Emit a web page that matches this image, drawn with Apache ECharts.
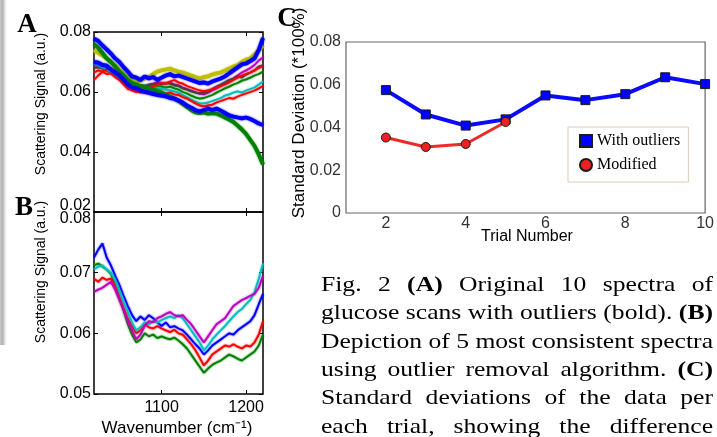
<!DOCTYPE html>
<html>
<head>
<meta charset="utf-8">
<script src="https://cdn.jsdelivr.net/npm/echarts@6/dist/echarts.min.js"></script>
<style>
  html, body { margin: 0; padding: 0; background: #fff; }
  #chart { width: 717px; height: 437px; }
</style>
</head>
<body>
<div id="chart"></div>
<script>
// wavenumber grid (cm^-1) shared by panels A and B
const wavenumbers = [
  1020, 1025, 1030, 1035, 1040, 1045, 1050, 1055, 1060, 1065,
  1070, 1075, 1080, 1085, 1090, 1095, 1100, 1105, 1110, 1115,
  1120, 1125, 1130, 1135, 1140, 1145, 1150, 1155, 1160, 1165,
  1170, 1175, 1180, 1185, 1190, 1195, 1200, 1205, 1210, 1215,
  1220
]
const wavenumberTicks = [1100, 1200]
const signalTicksA = [0.02, 0.04, 0.06, 0.08]
const signalTicksB = [0.05, 0.06, 0.07, 0.08]

// panel A: original 10 spectra (outliers bold)
const aBlueHigh = [
  .0778, .0770, .0755, .0742, .0728, .0712, .0700, .0683, .0668, .0652,
  .0648, .0640, .0652, .0645, .0650, .0640, .0648, .0655, .0660, .0652,
  .0655, .0650, .0645, .0640, .0635, .0630, .0632, .0628, .0635, .0640,
  .0645, .0652, .0662, .0672, .0682, .0692, .0695, .0703, .0712, .0740,
  .0780
]
const aBlueLow = [
  .0700, .0698, .0690, .0688, .0675, .0665, .0655, .0640, .0625, .0615,
  .0612, .0605, .0600, .0598, .0593, .0590, .0588, .0585, .0580, .0578,
  .0572, .0565, .0555, .0548, .0540, .0535, .0540, .0545, .0540, .0545,
  .0538, .0530, .0522, .0518, .0515, .0512, .0515, .0510, .0503, .0495,
  .0490
]
const aGreenBold = [
  .0760, .0748, .0730, .0712, .0700, .0685, .0668, .0655, .0640, .0630,
  .0625, .0620, .0618, .0612, .0608, .0603, .0598, .0590, .0585, .0578,
  .0570, .0560, .0550, .0540, .0532, .0530, .0532, .0528, .0530, .0528,
  .0522, .0515, .0508, .0500, .0488, .0475, .0460, .0440, .0420, .0392,
  .0358
]
const aOlive = [
  .0740, .0730, .0722, .0712, .0700, .0690, .0675, .0660, .0650, .0640,
  .0635, .0638, .0645, .0650, .0660, .0668, .0672, .0675, .0678, .0672,
  .0668, .0665, .0660, .0655, .0650, .0645, .0650, .0652, .0658, .0662,
  .0665, .0672, .0678, .0685, .0690, .0700, .0708, .0712, .0725, .0740,
  .0755
]
const aMagenta = [
  .0690, .0685, .0680, .0675, .0668, .0658, .0648, .0635, .0625, .0618,
  .0615, .0618, .0620, .0625, .0628, .0632, .0630, .0628, .0632, .0625,
  .0622, .0615, .0610, .0605, .0600, .0595, .0592, .0598, .0605, .0612,
  .0620, .0628, .0638, .0645, .0655, .0665, .0672, .0680, .0690, .0705,
  .0715
]
const aGray = [
  .0680, .0682, .0678, .0670, .0665, .0655, .0645, .0632, .0620, .0615,
  .0610, .0615, .0618, .0622, .0625, .0628, .0625, .0630, .0628, .0622,
  .0620, .0612, .0608, .0602, .0598, .0595, .0598, .0602, .0610, .0618,
  .0625, .0632, .0640, .0645, .0652, .0648, .0658, .0665, .0672, .0685,
  .0690
]
const aGreenThin = [
  .0700, .0695, .0688, .0680, .0670, .0660, .0648, .0635, .0622, .0612,
  .0608, .0610, .0612, .0615, .0618, .0620, .0618, .0615, .0618, .0612,
  .0608, .0600, .0595, .0588, .0582, .0578, .0580, .0585, .0590, .0598,
  .0605, .0612, .0618, .0625, .0630, .0638, .0642, .0648, .0655, .0660,
  .0668
]
const aCyan = [
  .0695, .0690, .0682, .0675, .0665, .0655, .0645, .0632, .0620, .0612,
  .0608, .0612, .0615, .0612, .0615, .0612, .0610, .0608, .0605, .0602,
  .0598, .0590, .0582, .0575, .0568, .0562, .0562, .0565, .0570, .0575,
  .0580, .0588, .0592, .0598, .0602, .0598, .0605, .0610, .0615, .0625,
  .0635
]
const aRedUpper = [
  .0640, .0655, .0668, .0675, .0680, .0670, .0655, .0640, .0618, .0605,
  .0600, .0610, .0605, .0612, .0618, .0625, .0630, .0628, .0635, .0640,
  .0632, .0628, .0620, .0615, .0610, .0605, .0603, .0605, .0610, .0615,
  .0620, .0625, .0632, .0640, .0648, .0655, .0660, .0665, .0672, .0680,
  .0685
]
const aRedLower = [
  .0665, .0672, .0668, .0660, .0662, .0650, .0640, .0625, .0610, .0608,
  .0602, .0598, .0600, .0595, .0598, .0600, .0598, .0595, .0598, .0592,
  .0590, .0583, .0578, .0570, .0562, .0555, .0552, .0555, .0558, .0565,
  .0570, .0575, .0580, .0578, .0585, .0590, .0595, .0600, .0605, .0612,
  .0620
]

// panel B: 5 most consistent spectra
const bGreen = [
  .0712, .0715, .0710, .0705, .0698, .0680, .0660, .0638, .0615, .0598,
  .0585, .0590, .0600, .0595, .0598, .0592, .0595, .0592, .0590, .0593,
  .0588, .0582, .0575, .0565, .0555, .0545, .0535, .0542, .0548, .0552,
  .0555, .0560, .0565, .0562, .0558, .0555, .0560, .0565, .0570, .0580,
  .0598
]
const bRed = [
  .0690, .0685, .0692, .0688, .0690, .0678, .0660, .0642, .0625, .0612,
  .0600, .0605, .0615, .0610, .0608, .0612, .0608, .0605, .0602, .0606,
  .0600, .0598, .0590, .0582, .0572, .0560, .0547, .0555, .0565, .0570,
  .0575, .0580, .0578, .0582, .0578, .0575, .0580, .0578, .0585, .0598,
  .0620
]
const bBlue = [
  .0725, .0738, .0748, .0725, .0712, .0695, .0680, .0662, .0645, .0630,
  .0620, .0628, .0622, .0630, .0625, .0618, .0612, .0618, .0610, .0612,
  .0608, .0605, .0598, .0590, .0582, .0575, .0565, .0572, .0580, .0585,
  .0590, .0595, .0600, .0598, .0605, .0610, .0615, .0620, .0630, .0648,
  .0665
]
const bCyan = [
  .0705, .0710, .0712, .0705, .0700, .0688, .0670, .0652, .0635, .0618,
  .0605, .0610, .0618, .0615, .0620, .0618, .0622, .0625, .0628, .0625,
  .0630, .0625, .0615, .0605, .0595, .0585, .0572, .0580, .0590, .0598,
  .0605, .0612, .0620, .0628, .0635, .0640, .0648, .0655, .0668, .0690,
  .0715
]
const bMagenta = [
  .0668, .0672, .0675, .0680, .0685, .0672, .0655, .0638, .0620, .0605,
  .0590, .0598, .0612, .0620, .0618, .0625, .0628, .0632, .0635, .0630,
  .0628, .0630, .0622, .0615, .0605, .0595, .0585, .0595, .0605, .0615,
  .0620, .0625, .0635, .0645, .0650, .0655, .0658, .0662, .0665, .0675,
  .0695
]

// panel C: standard deviation per trial
const trials = [2, 3, 4, 5, 6, 7, 8, 9, 10]
const sdWithOutliers = [0.0575, 0.0461, 0.0409, 0.0438, 0.0550, 0.0528, 0.0556, 0.0635, 0.0603]
const trialsModified = [2, 3, 4, 5]
const sdModified = [0.0353, 0.0309, 0.0323, 0.0426]
const trialTicks = [2, 4, 6, 8, 10]
const sdTicks = [0, 0.02, 0.04, 0.06, 0.08]

const captionLines = [
  [['Fig.'], ['2'], ['(A)', true], ['Original'], ['10'], ['spectra'], ['of']],
  [['glucose'], ['scans'], ['with'], ['outliers'], ['(bold).'], ['(B)', true]],
  [['Depiction'], ['of'], ['5'], ['most'], ['consistent'], ['spectra']],
  [['using'], ['outlier'], ['removal'], ['algorithm.'], ['(C)', true]],
  [['Standard'], ['deviations'], ['of'], ['the'], ['data'], ['per']],
  [['each'], ['trial,'], ['showing'], ['the'], ['difference']],
]

const SANS = '"Liberation Sans", Arial, Helvetica, sans-serif'
const SERIF = '"Liberation Serif", "Times New Roman", Times, "Nimbus Roman", serif'

function pairs(xs, ys) {
  return xs.map((x, i) => [x, ys[i]])
}

// noisy traces look slightly fuzzy in the scan, a soft shadow of the same colour mimics that
function spectrum(name, values, color, width, grid) {
  return {
    name,
    type: 'line',
    xAxisIndex: grid === 0 ? 0 : 2,
    yAxisIndex: grid === 0 ? 0 : 2,
    data: pairs(wavenumbers, values),
    showSymbol: false,
    symbol: 'none',
    lineStyle: { color, width, shadowColor: color, shadowBlur: 2 },
    silent: true,
  }
}

function frameAxis(gridIndex, position, min, max, ticks, showLabel, labelOpts) {
  return {
    type: 'value',
    gridIndex,
    position,
    min,
    max,
    splitLine: { show: false },
    axisLine: { show: false },
    axisTick: {
      show: true,
      inside: true,
      length: 4,
      customValues: ticks,
      lineStyle: { color: '#000', width: 1 },
    },
    axisLabel: Object.assign({
      show: showLabel,
      customValues: ticks,
      color: '#000',
      fontFamily: SANS,
      fontSize: 16,
      formatter: (v) => String(v),
    }, labelOpts || {}),
  }
}

// caption layout: justified lines, horizontally stretched like the scan
const CAPTION_SIZE = 22
const CAPTION_LEFT = 321
const CAPTION_WIDTH = 392
const CAPTION_TOP = 285
const CAPTION_STEP = 28.4
const measureCtx = document.createElement('canvas').getContext('2d')
function measure(text, bold) {
  measureCtx.font = (bold ? 'bold ' : '') + CAPTION_SIZE + 'px ' + SERIF
  return measureCtx.measureText(text).width
}
const refLine = captionLines[2].map((w) => w[0]).join(' ')
const captionScale = CAPTION_WIDTH / measure(refLine, false)

const captionGraphics = captionLines.map((line, li) => {
  const widths = line.map(([t, b]) => measure(t, b))
  const total = widths.reduce((a, b) => a + b, 0)
  const gap = (CAPTION_WIDTH / captionScale - total) / (line.length - 1)
  let x = 0
  const children = line.map(([t, b], i) => {
    const el = {
      type: 'text',
      x,
      y: 0,
      style: {
        text: t,
        font: (b ? 'bold ' : '') + CAPTION_SIZE + 'px ' + SERIF,
        fill: '#000',
        textAlign: 'left',
        textVerticalAlign: 'middle',
      },
    }
    x += widths[i] + gap
    return el
  })
  return {
    type: 'group',
    x: CAPTION_LEFT,
    y: CAPTION_TOP + li * CAPTION_STEP,
    scaleX: captionScale,
    children,
  }
})

function label(text, x, y, font, rotation) {
  return {
    type: 'text',
    x,
    y,
    rotation: rotation || 0,
    style: {
      text,
      font,
      fill: '#000',
      textAlign: 'center',
      textVerticalAlign: 'middle',
    },
  }
}

const option = {
  animation: false,
  backgroundColor: '#fff',
  grid: [
    { left: 94, top: 32, width: 169, height: 180, show: true, borderColor: '#000', borderWidth: 1.5, backgroundColor: 'transparent' },
    { left: 94, top: 212, width: 169, height: 182, show: true, borderColor: '#000', borderWidth: 1.5, backgroundColor: 'transparent' },
    { left: 346, top: 42, width: 361, height: 171, show: true, borderColor: '#666', borderWidth: 1.2, backgroundColor: 'transparent' },
  ],
  xAxis: [
    frameAxis(0, 'bottom', 1020, 1220, wavenumberTicks, false),
    frameAxis(0, 'top', 1020, 1220, wavenumberTicks, false),
    frameAxis(1, 'bottom', 1020, 1220, wavenumberTicks, true, { margin: 6 }),
    frameAxis(1, 'top', 1020, 1220, wavenumberTicks, false),
    {
      type: 'value',
      gridIndex: 2,
      min: 1,
      max: 10,
      splitLine: { show: false },
      axisLine: { show: false },
      axisTick: { show: false },
      axisLabel: { customValues: trialTicks, color: '#333', fontFamily: SANS, fontSize: 16, margin: 3 },
    },
  ],
  yAxis: [
    frameAxis(0, 'left', 0.02, 0.08, signalTicksA, true, {
      margin: 3,
      formatter: (v) => (v < 0.021 ? '{up|0.02}' : v.toFixed(2)),
      rich: { up: { fontFamily: SANS, fontSize: 16, color: '#000', padding: [0, 0, 12, 0] } },
    }),
    frameAxis(0, 'right', 0.02, 0.08, signalTicksA, false),
    frameAxis(1, 'left', 0.05, 0.08, signalTicksB, true, {
      margin: 3,
      formatter: (v) => (v > 0.079 ? '{down|0.08}' : v.toFixed(2)),
      rich: { down: { fontFamily: SANS, fontSize: 16, color: '#000', padding: [14, 0, 0, 0] } },
    }),
    frameAxis(1, 'right', 0.05, 0.08, signalTicksB, false),
    {
      type: 'value',
      gridIndex: 2,
      min: 0,
      max: 0.08,
      splitLine: { show: false },
      axisLine: { show: false },
      axisTick: { show: false },
      axisLabel: {
        customValues: sdTicks,
        color: '#333',
        fontFamily: SANS,
        fontSize: 16,
        margin: 5,
        formatter: (v) => (v === 0 ? '0' : v.toFixed(2)),
      },
    },
  ],
  legend: {
    data: [
      { name: 'With outliers', icon: 'rect' },
      { name: 'Modified', icon: 'circle' },
    ],
    orient: 'vertical',
    left: 568,
    top: 127,
    padding: [6, 8, 9, 11],
    itemGap: 8,
    itemWidth: 12,
    itemHeight: 12,
    borderColor: '#dccbb4',
    borderWidth: 1,
    backgroundColor: '#fff',
    textStyle: { fontFamily: SERIF, fontSize: 16, color: '#000' },
  },
  series: [
    spectrum('a-magenta', aMagenta, '#bf00bf', 1.8, 0),
    spectrum('a-gray', aGray, '#404040', 1.8, 0),
    spectrum('a-green', aGreenThin, '#008000', 1.8, 0),
    spectrum('a-cyan', aCyan, '#00bfbf', 1.8, 0),
    spectrum('a-red-lower', aRedLower, '#ff0000', 1.8, 0),
    spectrum('a-red-upper', aRedUpper, '#ff0000', 1.8, 0),
    spectrum('a-olive', aOlive, '#bfbf00', 3.8, 0),
    spectrum('a-green-bold', aGreenBold, '#008000', 3.8, 0),
    spectrum('a-blue-low', aBlueLow, '#0000ff', 3.8, 0),
    spectrum('a-blue-high', aBlueHigh, '#0000ff', 3.8, 0),
    spectrum('b-green', bGreen, '#008000', 1.8, 1),
    spectrum('b-red', bRed, '#ff0000', 1.8, 1),
    spectrum('b-blue', bBlue, '#0000ff', 1.8, 1),
    spectrum('b-cyan', bCyan, '#00bfbf', 1.8, 1),
    spectrum('b-magenta', bMagenta, '#bf00bf', 1.8, 1),
    {
      name: 'With outliers',
      type: 'line',
      xAxisIndex: 4,
      yAxisIndex: 4,
      data: pairs(trials, sdWithOutliers),
      symbol: 'rect',
      symbolSize: 9,
      lineStyle: { color: '#0a0aff', width: 4 },
      itemStyle: { color: '#0000ff', borderColor: '#1a1a1a', borderWidth: 1 },
    },
    {
      name: 'Modified',
      type: 'line',
      xAxisIndex: 4,
      yAxisIndex: 4,
      data: pairs(trialsModified, sdModified),
      symbol: 'circle',
      symbolSize: 9,
      lineStyle: { color: '#ee2a2a', width: 3 },
      itemStyle: { color: '#ee2020', borderColor: '#1a1a1a', borderWidth: 1 },
    },
  ],
  graphic: [
    {
      type: 'rect',
      shape: { x: 0, y: 0, width: 8, height: 345 },
      style: {
        fill: new echarts.graphic.LinearGradient(0, 0, 1, 0, [
          { offset: 0, color: '#c8c8c8' },
          { offset: 0.35, color: '#b0b0b0' },
          { offset: 1, color: 'rgba(255,255,255,0)' },
        ]),
      },
      silent: true,
    },
    label('A', 27, 25, 'bold 27px ' + SERIF),
    label('B', 24, 208, 'bold 27px ' + SERIF),
    label('C', 287, 19, 'bold 27px ' + SERIF),
    label('Scattering Signal (a.u.)', 41, 104, '14px ' + SANS, Math.PI / 2),
    label('Scattering Signal (a.u.)', 41, 272, '14px ' + SANS, Math.PI / 2),
    label('Wavenumber (cm\u207B\u00B9)', 177, 428, '17px ' + SANS),
    label('Standard Deviation (*100%)', 299, 113, '17px ' + SANS, Math.PI / 2),
    label('Trial Number', 527, 237, '16px ' + SANS),
  ].concat(captionGraphics),
}

const chart = echarts.init(document.getElementById('chart'), null, { renderer: 'canvas' })
chart.setOption(option)
window.addEventListener('resize', () => chart.resize())
</script>
</body>
</html>
